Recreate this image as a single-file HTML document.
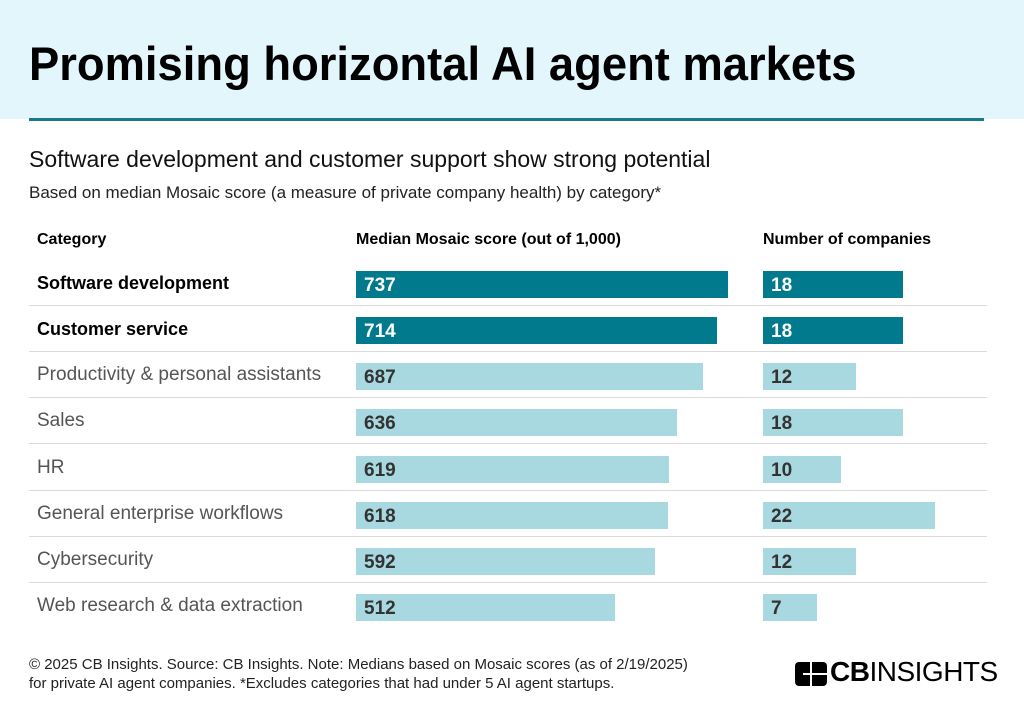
<!DOCTYPE html>
<html><head><style>
body{margin:0;width:1024px;height:719px;background:#fff;font-family:"Liberation Sans",sans-serif;position:relative;overflow:hidden}
.a{position:absolute;white-space:nowrap}
.hdr{left:0;top:0;width:1024px;height:119px;background:#e3f6fb}
.line{left:29px;top:118px;width:955px;height:3px;background:#1a7a8a}
.t{left:29px;top:36px;font-size:47px;font-weight:bold;color:#000;transform:scaleX(0.965);transform-origin:left}
.sep{left:29px;width:958px;height:1px;background:#d9d9d9}
.bar{height:27px;font-weight:bold;font-size:19px;color:#fff;line-height:29px;padding-left:8px;box-sizing:border-box}
.d{background:#007a8c}
.l{background:#a8d8e0;color:#333}
.lab{left:37px;font-size:19px;color:#555}
.b{color:#000;font-weight:bold;font-size:18px}
</style></head><body>
<div class="a hdr"></div>
<div class="a line"></div>
<div class="a t">Promising horizontal AI agent markets</div>
<div class="a" style="left:29px;top:146px;font-size:23px;color:#111;transform:scaleX(1.0);transform-origin:left">Software development and customer support show strong potential</div>
<div class="a" style="left:29px;top:183px;font-size:17px;color:#222">Based on median Mosaic score (a measure of private company health) by category*</div>
<div class="a" style="left:37px;top:231px;font-size:16px;font-weight:bold">Category</div>
<div class="a" style="left:356px;top:231px;font-size:16px;font-weight:bold">Median Mosaic score (out of 1,000)</div>
<div class="a" style="left:763px;top:231px;font-size:16px;font-weight:bold">Number of companies</div>

<div class="a lab b" style="top:273px">Software development</div>
<div class="a bar d" style="left:356px;top:271px;width:372px">737</div>
<div class="a bar d" style="left:763px;top:271px;width:140px">18</div>
<div class="a sep" style="top:305px"></div>

<div class="a lab b" style="top:319px">Customer service</div>
<div class="a bar d" style="left:356px;top:317px;width:361px">714</div>
<div class="a bar d" style="left:763px;top:317px;width:140px">18</div>
<div class="a sep" style="top:351px"></div>

<div class="a lab" style="top:364px">Productivity &amp; personal assistants</div>
<div class="a bar l" style="left:356px;top:363px;width:347px">687</div>
<div class="a bar l" style="left:763px;top:363px;width:93px">12</div>
<div class="a sep" style="top:397px"></div>

<div class="a lab" style="top:410px">Sales</div>
<div class="a bar l" style="left:356px;top:409px;width:321px">636</div>
<div class="a bar l" style="left:763px;top:409px;width:140px">18</div>
<div class="a sep" style="top:443px"></div>

<div class="a lab" style="top:457px">HR</div>
<div class="a bar l" style="left:356px;top:456px;width:313px">619</div>
<div class="a bar l" style="left:763px;top:456px;width:78px">10</div>
<div class="a sep" style="top:490px"></div>

<div class="a lab" style="top:503px">General enterprise workflows</div>
<div class="a bar l" style="left:356px;top:502px;width:312px">618</div>
<div class="a bar l" style="left:763px;top:502px;width:172px">22</div>
<div class="a sep" style="top:536px"></div>

<div class="a lab" style="top:549px">Cybersecurity</div>
<div class="a bar l" style="left:356px;top:548px;width:299px">592</div>
<div class="a bar l" style="left:763px;top:548px;width:93px">12</div>
<div class="a sep" style="top:582px"></div>

<div class="a lab" style="top:595px">Web research &amp; data extraction</div>
<div class="a bar l" style="left:356px;top:594px;width:259px">512</div>
<div class="a bar l" style="left:763px;top:594px;width:54px">7</div>

<div class="a" style="left:29px;top:655px;font-size:15px;color:#222;line-height:19px">© 2025 CB Insights. Source: CB Insights. Note: Medians based on Mosaic scores (as of 2/19/2025)<br>for private AI agent companies. *Excludes categories that had under 5 AI agent startups.</div>
<svg class="a" style="left:795px;top:662px" width="32" height="24"><rect x="0" y="0" width="32" height="24" rx="4" fill="#000"/><rect x="15" y="0" width="2" height="24" fill="#fff"/><rect x="8" y="11" width="24" height="2" fill="#fff"/></svg>
<div class="a" style="left:830px;top:656px;font-size:28px;color:#000;letter-spacing:-0.5px"><b>CB</b>INSIGHTS</div>
</body></html>
